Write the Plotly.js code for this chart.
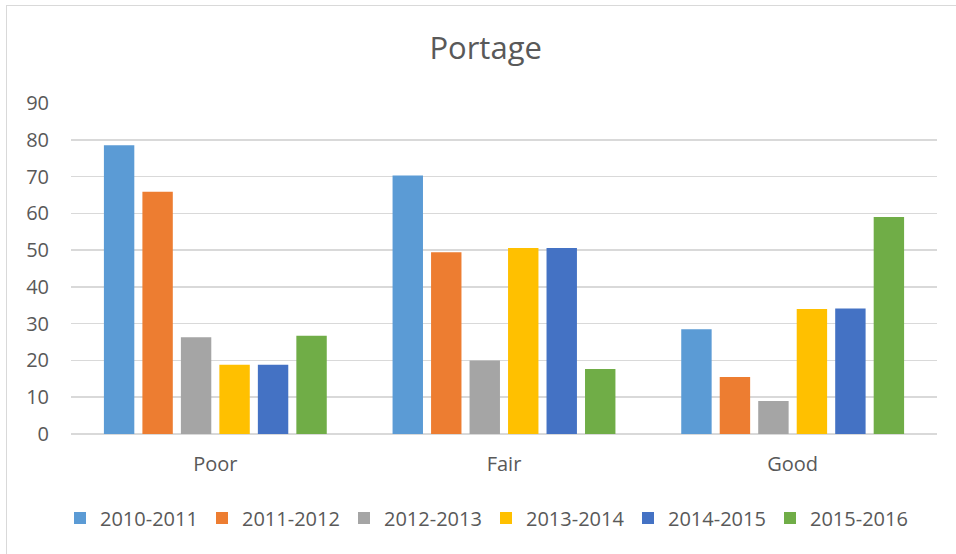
<!DOCTYPE html>
<html>
<head>
<meta charset="utf-8">
<script src="https://cdn.plot.ly/plotly-3.0.1.min.js"></script>
<style>
  html, body { margin: 0; padding: 0; background: #ffffff; }
  #wrap { position: relative; width: 956px; height: 554px; overflow: hidden; }
  #frame { position: absolute; left: 6px; top: 5px; width: 960px; height: 560px; border: 1.5px solid #d9d9d9; box-sizing: border-box; pointer-events: none; }
  #chart { position: absolute; left: 0; top: 0; width: 956px; height: 554px; }
</style>
</head>
<body>
<div id="wrap">
  <div id="chart"></div>
  <div id="frame"></div>
</div>
<script>
const categories = ["Poor", "Fair", "Good"];
const seriesNames = ["2010-2011", "2011-2012", "2012-2013", "2013-2014", "2014-2015", "2015-2016"];
const s2010_2011 = [78.5, 70.3, 28.5];
const s2011_2012 = [65.9, 49.4, 15.5];
const s2012_2013 = [26.3, 20.0, 9.0];
const s2013_2014 = [18.8, 50.6, 34.0];
const s2014_2015 = [18.8, 50.6, 34.1];
const s2015_2016 = [26.7, 17.7, 59.0];
const yTicks = [0, 10, 20, 30, 40, 50, 60, 70, 80, 90];

const seriesValues = [s2010_2011, s2011_2012, s2012_2013, s2013_2014, s2014_2015, s2015_2016];
const colors = ["#5B9BD5", "#ED7D31", "#A5A5A5", "#FFC000", "#4472C4", "#70AD47"];

const traces = seriesNames.map((name, i) => ({
  type: "bar",
  name: name,
  x: categories,
  y: seriesValues[i],
  marker: { color: colors[i], line: { width: 0 } },
  hoverinfo: "x+y+name"
}));

const font = "'Open Sans', 'Noto Sans', sans-serif";

const layout = {
  width: 956,
  height: 554,
  paper_bgcolor: "rgba(0,0,0,0)",
  plot_bgcolor: "rgba(0,0,0,0)",
  margin: { l: 71, r: 19, t: 103, b: 120 },
  barmode: "group",
  bargap: 0.2,
  bargroupgap: 0.21,
  title: {
    text: "Portage",
    font: { family: font, size: 31, color: "#595959" },
    xref: "container", x: 0.508, xanchor: "center",
    yref: "container", y: 1 - 48 / 554, yanchor: "middle"
  },
  xaxis: {
    type: "category",
    tickfont: { family: font, size: 20, color: "#595959" },
    showgrid: false,
    showline: false,
    zeroline: false,
    ticks: "",
    ticklabelstandoff: 16
  },
  yaxis: {
    range: [0, 90],
    tickvals: yTicks,
    ticktext: yTicks.map(String),
    tickfont: { family: font, size: 20, color: "#595959" },
    showgrid: true,
    gridcolor: "#d9d9d9",
    gridwidth: 1.5,
    zeroline: true,
    zerolinecolor: "#d9d9d9",
    zerolinewidth: 1.5,
    showline: false,
    ticks: "",
    ticklabelstandoff: 21
  },
  showlegend: true,
  legend: {
    orientation: "h",
    xref: "container", x: 486 / 956, xanchor: "center",
    yref: "container", y: 1 - 518 / 554, yanchor: "middle",
    font: { family: font, size: 20, color: "#595959" },
    entrywidth: 97,
    entrywidthmode: "pixels",
    itemclick: false,
    traceorder: "normal"
  }
};

Plotly.newPlot("chart", traces, layout, { displayModeBar: false, staticPlot: true });
</script>
</body>
</html>
